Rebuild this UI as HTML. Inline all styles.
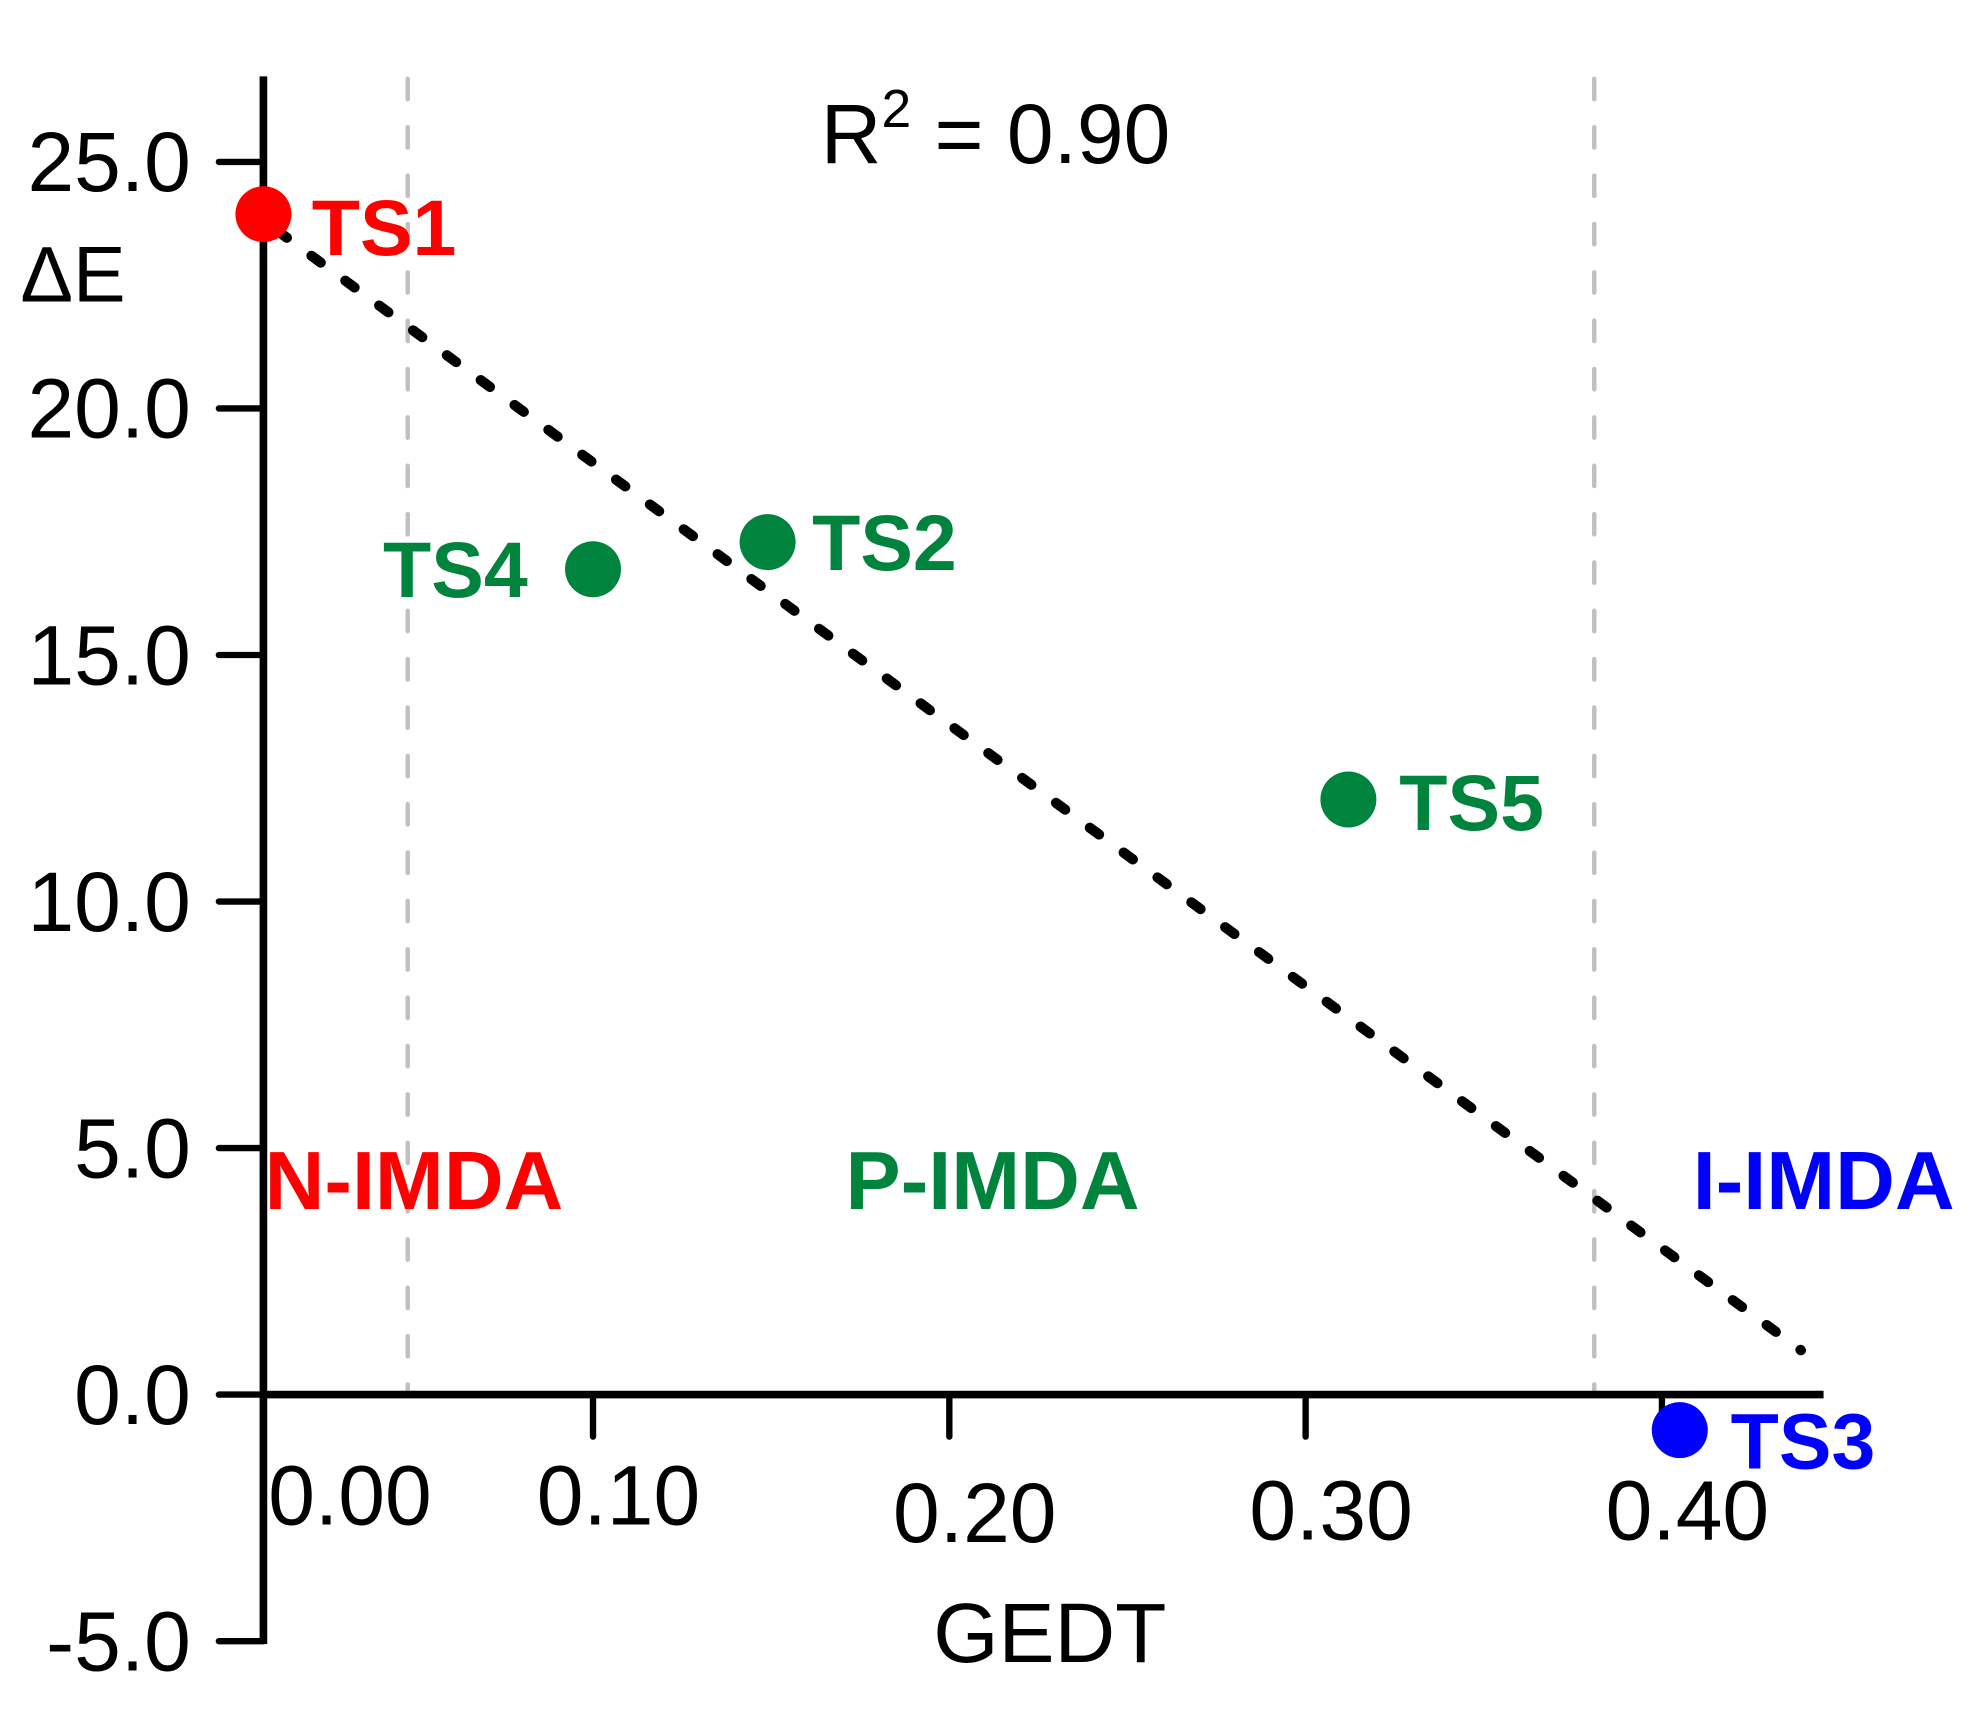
<!DOCTYPE html>
<html><head><meta charset="utf-8"><style>
html,body{margin:0;padding:0;background:#fff;}
svg{display:block;}
text{font-family:"Liberation Sans",Arial,sans-serif;}
</style></head><body>
<svg id="chart" width="1975" height="1728" viewBox="0 0 1552 1358" preserveAspectRatio="none" xmlns="http://www.w3.org/2000/svg">
<g id="grid"></g>
<g id="axes"></g>
<g id="trend"></g>
<g id="points"></g>
<g id="labels"></g>
</svg>
<script>
const names = ["TS1","TS2","TS3","TS4","TS5"];
const gedt = [0.0075, 0.149, 0.405, 0.100, 0.312];
const deltaE = [23.94, 17.29, -0.72, 16.74, 12.07];
const colors = ["#ff0000","#00843d","#0000ff","#00843d","#00843d"];
const yTicks = [25, 20, 15, 10, 5, 0, -5];
const yTickLabels = ["25.0","20.0","15.0","10.0","5.0","0.0","-5.0"];
const xTicks = [0.0, 0.1, 0.2, 0.3, 0.4];
const xTickLabels = ["0.00","0.10","0.20","0.30","0.40"];
const regionBounds = [0.048, 0.381];
const trendStart = [0.0115, 23.6];
const trendEnd = [0.439, 0.9];

const NS = "http://www.w3.org/2000/svg";
const X0 = 207;
function xs(v){ return 186 + 2800*v; }
function ys(v){ return 1096 - 38.75*v; }
function mk(tag, attrs, parent, txt){
  const e = document.createElementNS(NS, tag);
  for (const k in attrs) e.setAttribute(k, attrs[k]);
  if (txt !== undefined) e.textContent = txt;
  document.getElementById(parent).appendChild(e);
  return e;
}
regionBounds.forEach((b,i)=>{
  const l = mk('line',{x1:xs(b),x2:xs(b),y1:62,y2:1094,stroke:'#c0c0c0','stroke-width':3.5,'stroke-dasharray':'16 22','stroke-linecap':'round'},'grid');
  
  
});
let a = mk('line',{x1:X0,x2:X0,y1:60,y2:1292,stroke:'#000','stroke-width':6},'axes');


a = mk('line',{x1:X0,x2:1433,y1:ys(0),y2:ys(0),stroke:'#000','stroke-width':6},'axes');


yTicks.forEach((t,i)=>{
  const l = mk('line',{x1:172,x2:X0,y1:ys(t),y2:ys(t),stroke:'#000','stroke-width':5,'stroke-linecap':'round'},'axes');
  
  
  const tx = mk('text',{x:150,y:ys(t)+23,'font-size':66,'text-anchor':'end',fill:'#000'},'axes',yTickLabels[i]);
  
  
});
const xLabelDy = [80,80,94,92,92];
xTicks.forEach((t,i)=>{
  if (i>0){
    const l = mk('line',{x1:xs(t),x2:xs(t),y1:ys(0),y2:ys(0)+33,stroke:'#000','stroke-width':5,'stroke-linecap':'round'},'axes');
    
    
  }
  const cx = i===0 ? 275 : xs(t)+20;
  const tx = mk('text',{x:cx,y:ys(0)+xLabelDy[i]+22,'font-size':66,'text-anchor':'middle',fill:'#000'},'axes',xTickLabels[i]);
  
  
});
let t = mk('text',{x:825,y:1306,'font-size':66,'text-anchor':'middle',fill:'#000'},'labels','GEDT');


t = mk('text',{x:16,y:237,'font-size':62,fill:'#000'},'labels','\u0394E');


t = mk('text',{x:645,y:128,'font-size':66,fill:'#000'},'labels','');


t.innerHTML = 'R<tspan dy="-28" font-size="42">2</tspan><tspan dy="28"> = 0.90</tspan>';
const tr = mk('line',{x1:xs(trendStart[0]),y1:ys(trendStart[1]),x2:xs(trendEnd[0]),y2:ys(trendEnd[1]),stroke:'#000','stroke-width':8,'stroke-dasharray':'9 24','stroke-linecap':'round'},'trend');


const labelOff = [[38,32],[35,22],[40,30],[-165,22],[40,24]];
names.forEach((n,i)=>{
  const c = mk('circle',{cx:xs(gedt[i]),cy:ys(deltaE[i]),r:22,fill:colors[i]},'points');
  
  
  const tx = mk('text',{x:xs(gedt[i])+labelOff[i][0],y:ys(deltaE[i])+labelOff[i][1],'font-size':62,'font-weight':'bold',fill:colors[i]},'labels',n);
  
  
});
const regions = [["N-IMDA",208,"#ff0000","start"],["P-IMDA",780,"#00843d","middle"],["I-IMDA",1536,"#0000ff","end"]];
regions.forEach(r=>{
  const tx = mk('text',{x:r[1],y:950,'font-size':65,'font-weight':'bold',fill:r[2],'text-anchor':r[3]},'labels',r[0]);
  
  
});
</script>
</body></html>
